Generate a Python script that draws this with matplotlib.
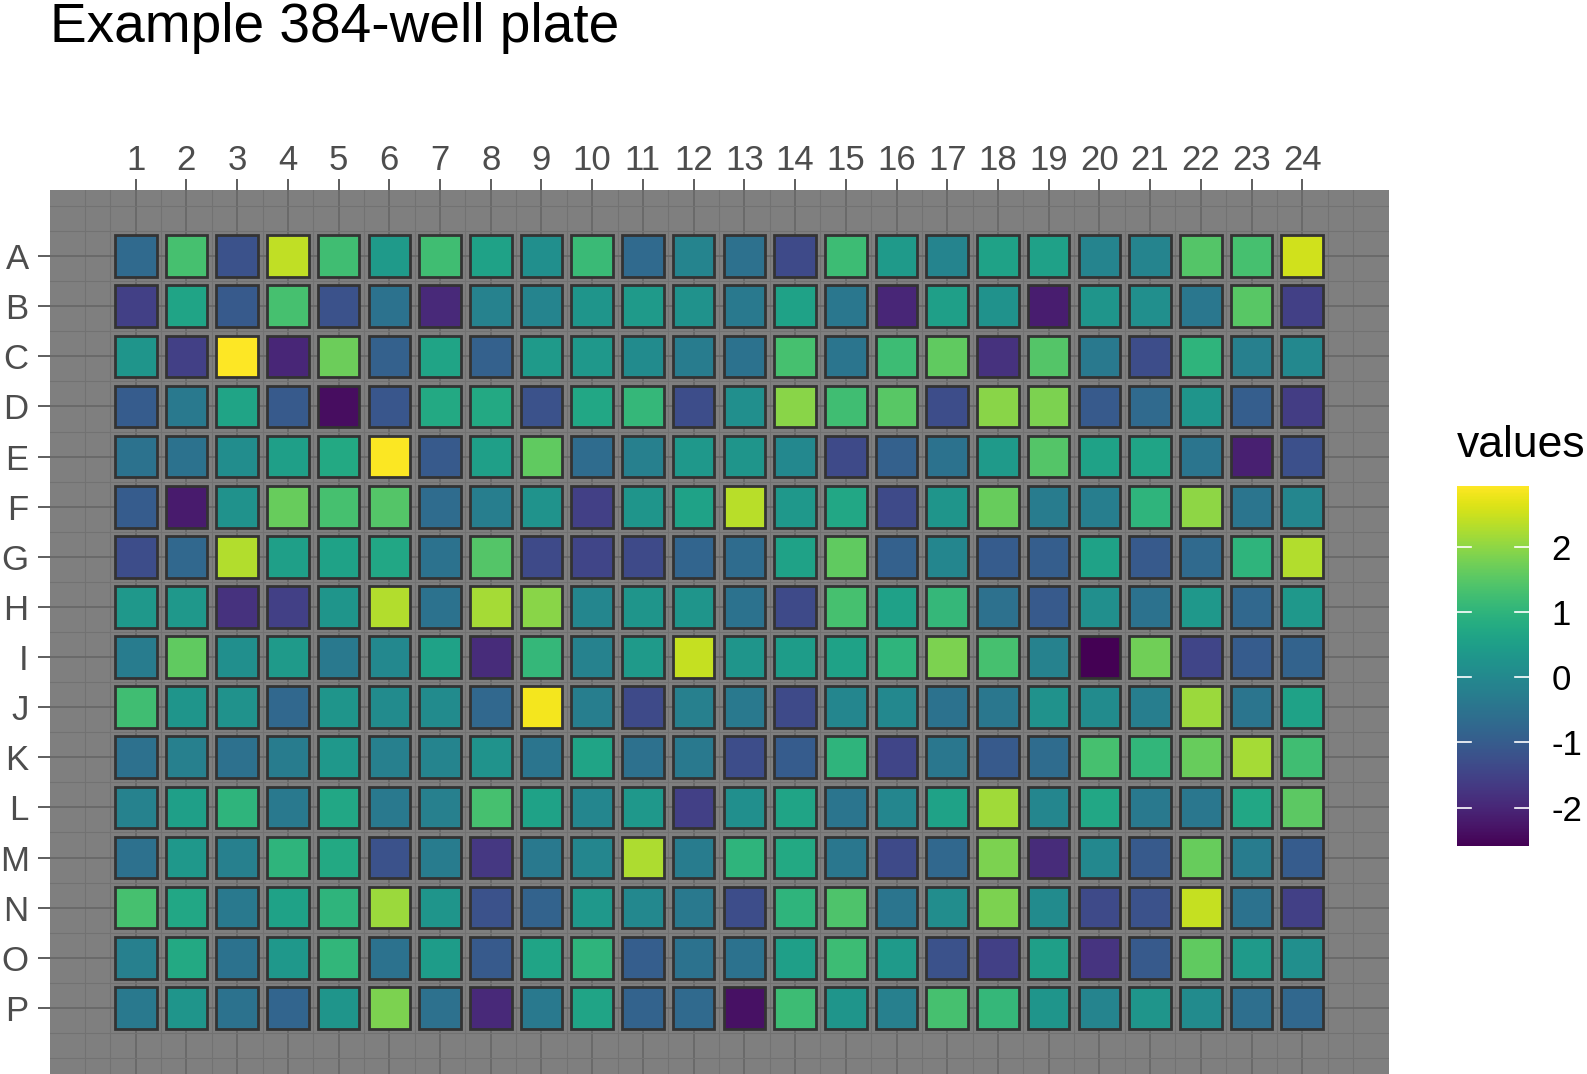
import numpy as np
import matplotlib
matplotlib.use("Agg")
import matplotlib.pyplot as plt
from matplotlib.patches import Rectangle
from matplotlib.colors import Normalize
from matplotlib.cm import ScalarMappable

plt.rcParams['font.family'] = ['Liberation Sans', 'DejaVu Sans']
plt.rcParams['axes.unicode_minus'] = False

################### DATA ###################

row_labels = list("ABCDEFGHIJKLMNOP")
col_labels = [str(i) for i in range(1, 25)]

# values read row by row (columns 1..24)
row_A = [-0.7, 1.3, -1.2, 2.4, 1.25, 0.4, 1.25, 0.6, 0.15, 1.15, -0.7, -0.1,
         -0.55, -1.35, 1.2, 0.4, -0.1, 0.6, 0.55, -0.1, -0.1, 1.45, 1.3, 2.55]
row_B = [-1.55, 0.65, -1.05, 1.3, -1.2, -0.5, -1.95, -0.15, -0.1, 0.3, 0.4, 0.2,
         -0.35, 0.6, -0.4, -2.0, 0.5, 0.2, -2.15, 0.3, 0.15, -0.4, 1.5, -1.55]
row_C = [0.3, -1.55, 2.94, -2.0, 1.7, -0.9, 0.65, -0.9, 0.4, 0.35, 0.05, -0.3,
         -0.5, 1.3, -0.45, 1.2, 1.6, -1.8, 1.45, -0.35, -1.3, 1.0, -0.2, 0.0]
row_D = [-1.0, -0.35, 0.65, -1.05, -2.4, -1.1, 0.75, 0.75, -1.2, 0.7, 1.1, -1.3,
         0.15, 1.95, 1.25, 1.5, -1.3, 1.95, 1.85, -1.05, -0.7, 0.3, -0.95, -1.6]
row_E = [-0.5, -0.5, 0.1, 0.5, 0.75, 2.9, -1.05, 0.5, 1.6, -0.65, -0.2, 0.35,
         0.3, 0.0, -1.35, -0.9, -0.5, 0.4, 1.45, 0.6, 0.65, -0.45, -2.1, -1.25]
row_F = [-1.0, -2.2, 0.2, 1.65, 1.3, 1.45, -0.65, -0.25, 0.25, -1.55, 0.3, 0.6,
         2.35, 0.35, 0.7, -1.35, 0.3, 1.65, -0.3, -0.25, 1.0, 2.0, -0.45, -0.05]
row_G = [-1.3, -0.75, 2.3, 0.5, 0.6, 0.7, -0.5, 1.45, -1.35, -1.45, -1.35, -0.8,
         -0.65, 0.6, 1.6, -0.9, -0.05, -1.0, -0.95, 0.6, -1.05, -0.7, 1.0, 2.3]
row_H = [0.35, 0.35, -1.8, -1.55, 0.3, 2.3, -0.5, 2.2, 1.95, -0.05, 0.3, 0.3,
         -0.5, -1.35, 1.3, 0.55, 1.1, -0.55, -1.05, 0.15, -0.5, 0.35, -0.75, 0.35]
row_I = [-0.3, 1.6, 0.15, 0.4, -0.35, 0.0, 0.6, -1.9, 1.1, -0.15, 0.4, 2.45,
         0.3, 0.45, 0.6, 1.0, 1.85, 1.3, -0.15, -2.59, 1.75, -1.45, -1.0, -0.85]
row_J = [1.25, 0.3, 0.2, -0.75, 0.3, 0.05, 0.05, -0.75, 2.85, -0.25, -1.35, -0.2,
         -0.35, -1.35, -0.05, 0.0, -0.5, -0.4, 0.2, 0.05, -0.25, 2.1, -0.45, 0.6]
row_K = [-0.55, -0.2, -0.55, -0.3, 0.35, -0.2, -0.1, 0.25, -0.45, 0.65, -0.55, -0.35,
         -1.3, -1.0, 1.0, -1.45, -0.4, -1.05, -0.65, 1.3, 1.05, 1.65, 2.2, 1.25]
row_L = [-0.15, 0.5, 1.0, -0.35, 0.7, -0.35, -0.2, 1.3, 0.6, -0.05, 0.35, -1.55,
         0.15, 0.65, -0.45, -0.05, 0.6, 2.15, -0.05, 0.7, -0.35, -0.4, 0.7, 1.55]
row_M = [-0.55, 0.35, -0.2, 1.0, 0.75, -1.2, -0.3, -1.7, -0.35, -0.05, 2.25, -0.3,
         1.0, 0.75, -0.4, -1.35, -0.75, 1.85, -1.9, 0.0, -1.05, 1.65, -0.3, -1.0]
row_N = [1.3, 0.7, -0.35, 0.6, 1.0, 2.1, 0.3, -1.2, -0.85, 0.35, 0.0, -0.35,
         -1.3, 1.0, 1.4, -0.45, 0.1, 1.85, 0.05, -1.35, -1.2, 2.45, -0.5, -1.55]
row_O = [-0.2, 0.75, -0.5, 0.35, 1.05, -0.5, 0.45, -1.05, 0.65, 1.0, -0.95, -0.5,
         -0.5, 0.5, 1.2, 0.4, -1.2, -1.55, 0.5, -1.75, -1.05, 1.6, 0.4, 0.15]
row_P = [-0.35, 0.3, -0.5, -0.8, 0.3, 1.85, -0.55, -1.95, -0.35, 0.65, -0.85, -0.7,
         -2.35, 1.2, 0.3, -0.2, 1.3, 1.1, 0.3, -0.1, 0.3, 0.05, -0.6, -0.75]

plate = np.array([row_A, row_B, row_C, row_D, row_E, row_F, row_G, row_H,
                  row_I, row_J, row_K, row_L, row_M, row_N, row_O, row_P])
cbar_ticks = [-2, -1, 0, 1, 2]

################### FIGURE ###################

W, H = 1587, 1074
fig = plt.figure(figsize=(W / 100, H / 100), dpi=100)

# panel runs right down to the bottom edge of the picture
ax = fig.add_axes([50 / W, 0, 1339 / W, 884 / H])
ax.set_facecolor('#7f7f7f')
ax.set_xlim(-0.69, 25.71)
ax.set_ylim(17.32, -0.32)

# grid: major at wells, minor half-way
for x in np.arange(0, 25.01, 0.5):
    major = float(x).is_integer() and 1 <= x <= 24
    ax.axvline(x, color='#686868' if major else '#727272',
               lw=1.3 if major else 0.8, zorder=0)
for y in np.arange(0, 17.01, 0.5):
    major = float(y).is_integer() and 1 <= y <= 16
    ax.axhline(y, color='#686868' if major else '#727272',
               lw=1.3 if major else 0.8, zorder=0)

cmap = plt.get_cmap('viridis')
norm = Normalize(plate.min(), plate.max())
w, h = 0.82, 0.83
for r in range(plate.shape[0]):
    for c in range(plate.shape[1]):
        ax.add_patch(Rectangle((c + 1 - w / 2, r + 1 - h / 2), w, h,
                               facecolor=cmap(norm(plate[r, c])),
                               edgecolor='#333333', lw=2.0, zorder=2))

ax.set_xticks(range(1, 25))
ax.set_xticklabels(col_labels)
ax.set_yticks(range(1, 17))
ax.set_yticklabels(row_labels)
ax.xaxis.tick_top()
ax.tick_params(axis='x', length=7.7, width=1.1, color='#333333', pad=1.5,
               labelsize=25, labelcolor='#4d4d4d')
ax.tick_params(axis='y', length=8.3, width=1.1, color='#333333', pad=7,
               labelsize=25, labelcolor='#4d4d4d')
for s in ax.spines.values():
    s.set_visible(False)

fig.text(50 / W, 1 - 42.5 / H, 'Example 384-well plate', fontsize=39.6,
         ha='left', va='baseline', color='black')

################### COLOURBAR ###################

cax = fig.add_axes([1457 / W, (H - 846) / H, 72 / W, 360 / H])
cb = fig.colorbar(ScalarMappable(norm=norm, cmap=cmap), cax=cax, ticks=cbar_ticks)
cb.outline.set_visible(False)
cax.tick_params(length=0, pad=16, labelsize=25, labelcolor='black')
for t in cbar_ticks:
    cax.axhline(t, 0, 0.195, color='white', lw=1.2)
    cax.axhline(t, 0.805, 1, color='white', lw=1.2)
fig.text(1457 / W, 1 - 457 / H, 'values', fontsize=32, ha='left', va='baseline')

fig.savefig('out.png', dpi=100)
